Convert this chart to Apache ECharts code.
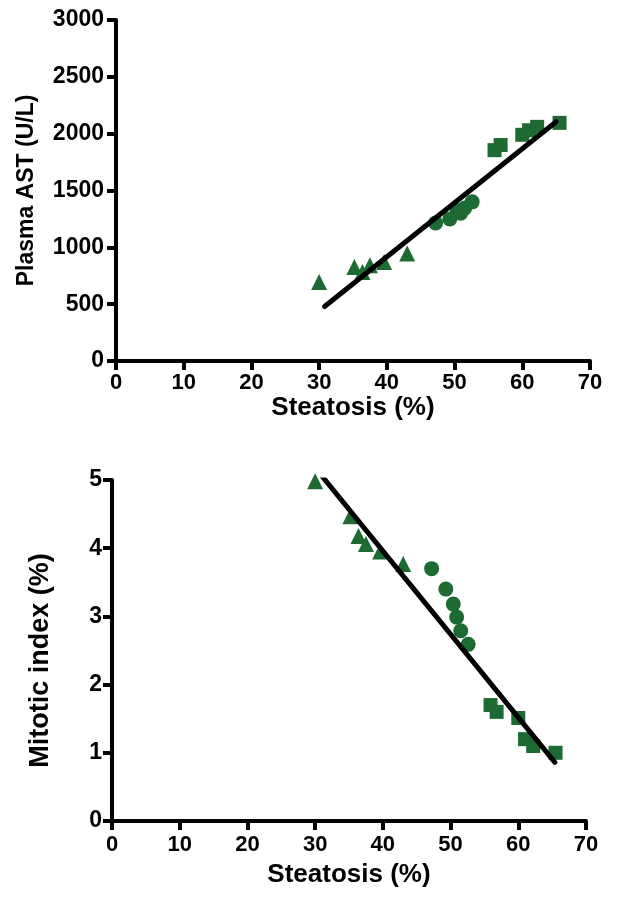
<!DOCTYPE html>
<html>
<head>
<meta charset="utf-8">
<script src="https://cdn.jsdelivr.net/npm/echarts@6/dist/echarts.min.js"></script>
<style>
html,body{margin:0;padding:0;background:#fff;}
#chart{width:637px;height:900px;}
</style>
</head>
<body>
<div id="chart"></div>
<script>
// ---- data ----
var xTicks = [0, 10, 20, 30, 40, 50, 60, 70];
var astTicks = [0, 500, 1000, 1500, 2000, 2500, 3000];
var mitTicks = [0, 1, 2, 3, 4, 5];

// Steatosis (%) per group
var triSteatosis = [30.0, 35.2, 36.4, 37.5, 39.6, 43.0];
var cirSteatosis = [47.2, 49.3, 50.4, 50.9, 51.5, 52.6];
var sqSteatosis  = [55.9, 56.8, 60.0, 61.0, 62.2, 65.5];

// Plasma AST (U/L)
var triAST = [696, 828, 784, 843, 872, 946];
var cirAST = [1215, 1250, 1325, 1300, 1345, 1400];
var sqAST  = [1855, 1900, 1990, 2030, 2060, 2095];

// Mitotic index (%)
var triMit = [4.98, 4.47, 4.18, 4.06, 3.95, 3.77];
var cirMit = [3.70, 3.40, 3.18, 2.99, 2.79, 2.59];
var sqMit  = [1.70, 1.60, 1.51, 1.20, 1.10, 1.00];

// regression lines (endpoints)
var fitXAST = [30.8, 65.0];
var fitAST  = [480, 2105];
var fitXMit = [30.0, 65.4];
var fitMit  = [5.18, 0.86];

function pairs(xs, ys){ return xs.map(function(x,i){ return [x, ys[i]]; }); }

var green = '#1d6b33';
var font = '"Liberation Sans", Arial, Helvetica, sans-serif';

function xAxisCfg(gridIndex, gap, margin){
  return {
    type:'value', gridIndex:gridIndex, min:xTicks[0], max:xTicks[xTicks.length-1], interval:10,
    name:'Steatosis (%)', nameLocation:'middle', nameGap:gap,
    nameTextStyle:{fontFamily:font, fontWeight:'bold', fontSize:26, color:'#000'},
    axisLine:{show:true, onZero:false, lineStyle:{color:'#000', width:4}},
    axisTick:{show:true, length:9, lineStyle:{color:'#000', width:4}},
    axisLabel:{fontFamily:font, fontWeight:'bold', fontSize:22, color:'#000', margin:margin,
      formatter:function(v){ return String(v); }},
    splitLine:{show:false}
  };
}
function yAxisCfg(gridIndex, name, ticks, interval, gap, nameSize, namePad, margin){
  return {
    type:'value', gridIndex:gridIndex, min:ticks[0], max:ticks[ticks.length-1], interval:interval,
    name:name, nameLocation:'middle', nameGap:gap, nameRotate:90,
    nameTextStyle:{fontFamily:font, fontWeight:'bold', fontSize:nameSize, color:'#000', padding:namePad},
    axisLine:{show:true, onZero:false, lineStyle:{color:'#000', width:4}},
    axisTick:{show:true, length:9, lineStyle:{color:'#000', width:4}},
    axisLabel:{fontFamily:font, fontWeight:'bold', fontSize:23, color:'#000', margin:margin,
      formatter:function(v){ return String(v); }},
    splitLine:{show:false}
  };
}
function scatter(xi, yi, data, symbol, size){
  return {type:'scatter', xAxisIndex:xi, yAxisIndex:yi, data:data, symbol:symbol, symbolSize:size,
    itemStyle:{color:green, opacity:1}, z:3, animation:false};
}
function fit(xi, yi, xs, ys){
  return {type:'line', xAxisIndex:xi, yAxisIndex:yi, data:pairs(xs, ys), symbol:'none',
    lineStyle:{color:'#000', width:5, cap:'round'}, z:4, animation:false};
}

var chart = echarts.init(document.getElementById('chart'), null, {renderer:'canvas'});
chart.setOption({
  backgroundColor:'#fff',
  animation:false,
  grid:[
    {left:116, top:20, width:474, height:341},
    {left:112, top:480, width:474, height:341}
  ],
  xAxis:[xAxisCfg(0, 32, 11), xAxisCfg(1, 41, 13)],
  yAxis:[
    yAxisCfg(0, 'Plasma AST (U/L)', astTicks, 500, 78, 23, 0, 12),
    yAxisCfg(1, 'Mitotic index (%)', mitTicks, 1, 58, 27, [0, 20, 0, 0], 10)
  ],
  series:[
    scatter(0,0,pairs(triSteatosis, triAST),'triangle',16),
    scatter(0,0,pairs(cirSteatosis, cirAST),'circle',15),
    scatter(0,0,pairs(sqSteatosis, sqAST),'rect',14),
    fit(0,0,fitXAST,fitAST),
    scatter(1,1,pairs(triSteatosis, triMit),'triangle',16),
    scatter(1,1,pairs(cirSteatosis, cirMit),'circle',15),
    scatter(1,1,pairs(sqSteatosis, sqMit),'rect',14),
    fit(1,1,fitXMit,fitMit)
  ]
});
</script>
</body>
</html>
